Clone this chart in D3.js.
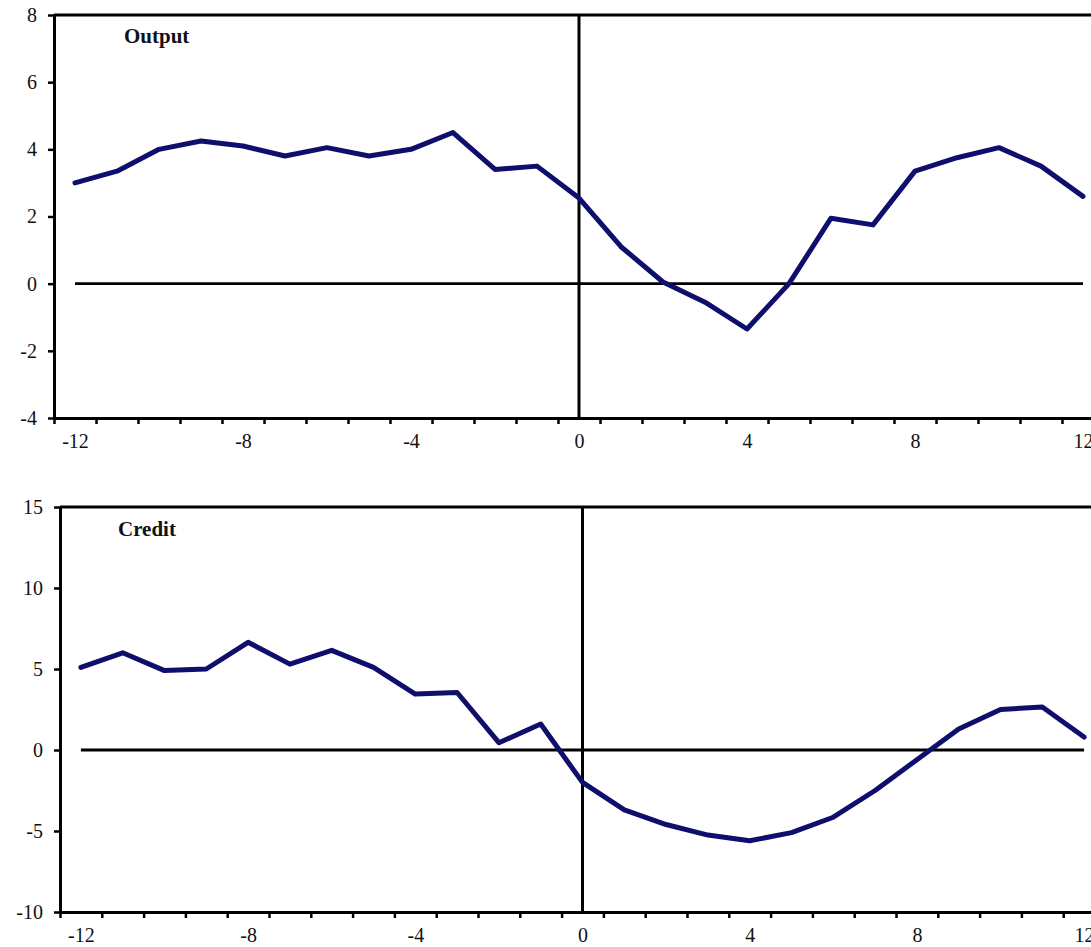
<!DOCTYPE html>
<html>
<head>
<meta charset="utf-8">
<script src="https://cdn.jsdelivr.net/npm/d3@7"></script>
<style>
  html, body { margin: 0; padding: 0; background: #fff; }
  svg { display: block; }
  .tick text { font-family: "Liberation Serif", "Times New Roman", serif; fill: #111; }
</style>
</head>
<body>
<svg id="chart" width="1091" height="947"></svg>
<script>
// Quarters relative to the event (t = 0)
const quarters = d3.range(-12, 13);
const xTickLabels = [-12, -8, -4, 0, 4, 8, 12];

// Output growth around the event, per cent
const outputValues = [3.0, 3.35, 4.0, 4.25, 4.1, 3.8, 4.05, 3.8, 4.0, 4.5, 3.4, 3.5,
                      2.55, 1.1, 0.05, -0.55, -1.35, 0.0, 1.95, 1.75, 3.35, 3.75, 4.05, 3.5, 2.6];
const outputYTicks = [-4, -2, 0, 2, 4, 6, 8];

// Credit growth around the event, per cent
const creditValues = [5.1, 6.0, 4.9, 5.0, 6.65, 5.3, 6.15, 5.1, 3.45, 3.55, 0.45, 1.6,
                      -2.0, -3.7, -4.6, -5.25, -5.6, -5.1, -4.15, -2.5, -0.6, 1.3, 2.5, 2.65, 0.8];
const creditYTicks = [-10, -5, 0, 5, 10, 15];

const svg = d3.select("#chart");
const lineColor = "#0e0e6c";
// plain hyphen for negative numbers
const fmt = d => String(d);

function drawPanel(cfg) {
  const g = svg.append("g");
  const x = d3.scaleLinear()
    .domain([-12.5, 12.5])
    .range([cfg.left, cfg.left + 25 * cfg.step]);
  const y = d3.scaleLinear()
    .domain(cfg.yDomain)
    .range([cfg.bottom, cfg.top]);

  // top frame line
  g.append("line")
    .attr("x1", cfg.left).attr("x2", x(12.5))
    .attr("y1", cfg.top).attr("y2", cfg.top)
    .attr("stroke", "#000").attr("stroke-width", 3);

  // y axis
  const yAxis = g.append("g")
    .attr("transform", `translate(${cfg.left},0)`)
    .call(d3.axisLeft(y).tickValues(cfg.yTicks).tickSize(6).tickSizeOuter(0).tickPadding(11).tickFormat(fmt));
  yAxis.select(".domain").attr("stroke-width", 3);
  yAxis.selectAll(".tick line").attr("stroke-width", 2.5);
  yAxis.selectAll(".tick text").style("font-size", "20px");

  // x axis: tick marks on category boundaries
  const boundaries = d3.range(-12.5, 13, 1);
  const xAxis = g.append("g")
    .attr("transform", `translate(0,${cfg.bottom})`)
    .call(d3.axisBottom(x).tickValues(boundaries).tickFormat("").tickSize(6).tickSizeOuter(0));
  xAxis.select(".domain").attr("stroke-width", 3);
  xAxis.selectAll(".tick line").attr("stroke-width", 2.5);

  // x axis labels centred on categories
  const xLab = g.append("g")
    .attr("transform", `translate(0,${cfg.bottom})`)
    .call(d3.axisBottom(x).tickValues(xTickLabels).tickSize(0).tickPadding(16).tickFormat(fmt));
  xLab.select(".domain").remove();
  xLab.selectAll(".tick text").style("font-size", "20px");

  // vertical line at the event
  g.append("line")
    .attr("x1", x(0)).attr("x2", x(0))
    .attr("y1", cfg.top).attr("y2", cfg.bottom)
    .attr("stroke", "#000").attr("stroke-width", 3);

  // zero line across the categories
  g.append("line")
    .attr("x1", x(-12)).attr("x2", x(12))
    .attr("y1", y(0)).attr("y2", y(0))
    .attr("stroke", "#000").attr("stroke-width", 2.8);

  // series
  const line = d3.line()
    .x((d, i) => x(quarters[i]))
    .y(d => y(d));
  g.append("path")
    .datum(cfg.values)
    .attr("d", line)
    .attr("fill", "none")
    .attr("stroke", lineColor)
    .attr("stroke-width", 5)
    .attr("stroke-linejoin", "round")
    .attr("stroke-linecap", "round");

  // panel title
  g.append("text")
    .attr("x", cfg.titleX).attr("y", cfg.titleY)
    .attr("font-family", "'Liberation Serif', 'Times New Roman', serif")
    .attr("font-weight", "bold")
    .attr("font-size", "21px")
    .attr("fill", "#111")
    .text(cfg.title);
}

drawPanel({
  title: "Output", titleX: 124, titleY: 43,
  values: outputValues, yTicks: outputYTicks, yDomain: [-4, 8],
  left: 54, step: 42, top: 15, bottom: 418
});

drawPanel({
  title: "Credit", titleX: 118, titleY: 536,
  values: creditValues, yTicks: creditYTicks, yDomain: [-10, 15],
  left: 60, step: 41.8, top: 507, bottom: 912
});
</script>
</body>
</html>
